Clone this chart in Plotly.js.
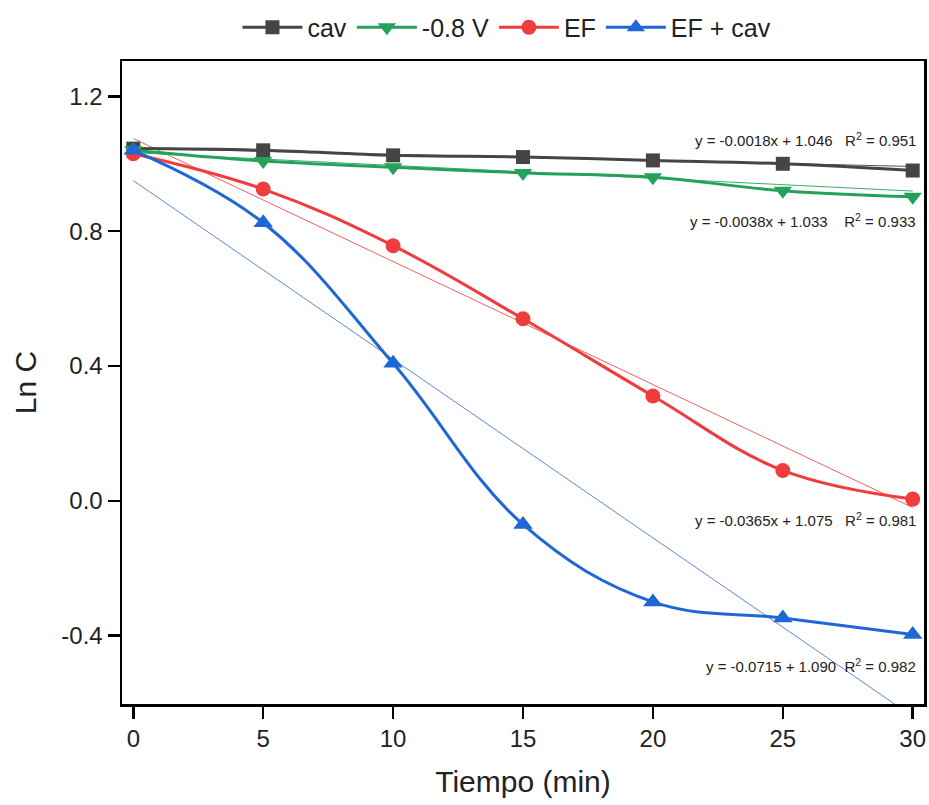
<!DOCTYPE html>
<html>
<head>
<meta charset="utf-8">
<script src="https://cdn.plot.ly/plotly-3.0.1.min.js"></script>
<style>html,body{margin:0;padding:0;background:#fff;}#chart{width:929px;height:805px;}</style>
</head>
<body>
<div id="chart"></div>
<script>
// ---- data ----
var time = [0, 5, 10, 15, 20, 25, 30];
var cav = [1.045, 1.04, 1.025, 1.02, 1.01, 1.0, 0.98];
var v08 = [1.04, 1.008, 0.99, 0.973, 0.96, 0.92, 0.902];
var ef = [1.03, 0.925, 0.757, 0.54, 0.311, 0.09, 0.005];
var efcav = [1.04, 0.825, 0.408, -0.07, -0.30, -0.348, -0.397];

var seriesNames = ['cav', '-0.8 V', 'EF', 'EF + cav'];
// linear fits (slope, intercept) as drawn
var fitSlope = [-0.0018, -0.0038, -0.0365, -0.053];
var fitIntercept = [1.046, 1.033, 1.075, 0.95];
var fitLabels = [
  'y = -0.0018x + 1.046&nbsp;&nbsp;&nbsp;R<sup>2</sup> = 0.951',
  'y = -0.0038x + 1.033&nbsp;&nbsp;&nbsp;&nbsp;R<sup>2</sup> = 0.933',
  'y = -0.0365x + 1.075&nbsp;&nbsp;&nbsp;R<sup>2</sup> = 0.981',
  'y = -0.0715 + 1.090&nbsp;&nbsp;R<sup>2</sup> = 0.982'
];
var xTicks = [0, 5, 10, 15, 20, 25, 30];
var xTickText = ['0', '5', '10', '15', '20', '25', '30'];
var yTicks = [-0.4, 0.0, 0.4, 0.8, 1.2];
var yTickText = ['-0.4', '0.0', '0.4', '0.8', '1.2'];

// ---- styling ----
var colors = ['#454545', '#25a25a', '#f03c3c', '#1f66d6'];
var trendColors = ['#555555', '#3aae6a', '#f26060', '#5a86d0'];
var symbols = ['square', 'triangle-down', 'circle', 'triangle-up'];
var msizes = [14, 16, 15, 17];
var allY = [cav, v08, ef, efcav];
var labelY = [1.073, 0.8315, -0.056, -0.488];

var traces = [];
for (var i = 0; i < 4; i++) {
  var x0 = time[0], x1 = time[time.length - 1];
  traces.push({
    x: [x0, x1],
    y: [fitIntercept[i] + fitSlope[i] * x0, fitIntercept[i] + fitSlope[i] * x1],
    mode: 'lines',
    line: {color: trendColors[i], width: 1},
    showlegend: false,
    hoverinfo: 'skip'
  });
}
for (var j = 0; j < 4; j++) {
  traces.push({
    x: time,
    y: allY[j],
    name: seriesNames[j],
    mode: 'lines+markers',
    line: {color: colors[j], width: 3, shape: 'spline', smoothing: 1.1},
    marker: {symbol: symbols[j], size: msizes[j], color: colors[j]}
  });
}

var annotations = [];
for (var k = 0; k < 4; k++) {
  annotations.push({
    x: 30.2, y: labelY[k], xref: 'x', yref: 'y',
    xanchor: 'right', yanchor: 'middle',
    text: fitLabels[k], showarrow: false,
    font: {family: 'Liberation Sans, Arial, sans-serif', size: 15, color: '#222'}
  });
}

var axisCommon = {
  showline: true, linecolor: '#000', linewidth: 2.5, mirror: true,
  ticks: 'outside', ticklen: 12, tickwidth: 2.5, tickcolor: '#000',
  showgrid: false, zeroline: false,
  tickfont: {family: 'Liberation Sans, Arial, sans-serif', size: 24, color: '#222'}
};

var layout = {
  width: 929, height: 805,
  margin: {l: 122, r: 5, t: 55, b: 101},
  paper_bgcolor: '#fff', plot_bgcolor: '#fff',
  showlegend: true,
  legend: {
    orientation: 'h', x: 0.48, xanchor: 'center', y: 1.052, yanchor: 'middle',
    font: {family: 'Liberation Sans, Arial, sans-serif', size: 25, color: '#222'},
    itemwidth: 60, tracegroupgap: 0
  },
  xaxis: Object.assign({}, axisCommon, {
    range: [-0.435, 30.435], tickvals: xTicks, ticktext: xTickText,
    title: {text: 'Tiempo (min)', standoff: 20, font: {family: 'Liberation Sans, Arial, sans-serif', size: 30, color: '#222'}}
  }),
  yaxis: Object.assign({}, axisCommon, {
    range: [-0.603, 1.305], tickvals: yTicks, ticktext: yTickText,
    title: {text: 'Ln C', standoff: 16, font: {family: 'Liberation Sans, Arial, sans-serif', size: 30, color: '#222'}}
  }),
  annotations: annotations,
  hovermode: false
};

Plotly.newPlot('chart', traces, layout, {displayModeBar: false, staticPlot: true});
</script>
</body>
</html>
